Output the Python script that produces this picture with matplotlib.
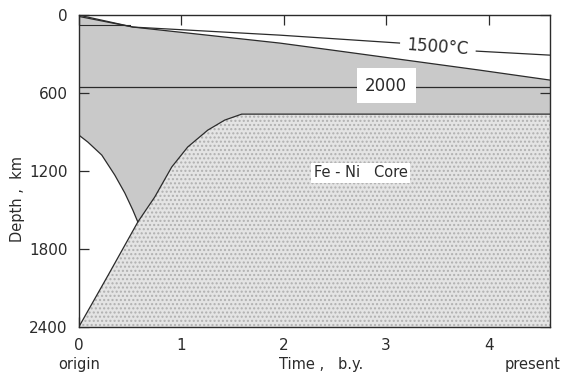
"""Depth-time section: isotherms, molten zone and growth of the Fe-Ni core."""

import matplotlib.pyplot as plt

# values (time in b.y., depth in km)
core_t = [0.0, 0.29, 0.576, 0.741, 0.907, 1.063, 1.259, 1.424, 1.59, 4.6]
core_d = [2400, 1996, 1592, 1400, 1169, 1015, 885, 808, 762, 762]

melt_low_t = [0.0, 0.088, 0.224, 0.351, 0.449, 0.527, 0.576]
melt_low_d = [923, 977, 1077, 1231, 1369, 1500, 1592]

melt_top_t = [0.0, 0.53, 1.96, 2.48, 3.91, 4.6]
melt_top_d = [10, 92, 215, 270, 423, 500]

iso1500_t = [0.0, 0.53, 1.96, 3.13, 3.88, 4.6]
iso1500_d = [0, 92, 154, 215, 277, 308]

iso2000_d = 554
x_ticks = [0, 1, 2, 3, 4]
y_ticks = [0, 600, 1200, 1800, 2400]

INK = "#2b2b2b"


def main() -> None:
    fig = plt.figure(figsize=(5.63, 3.78), dpi=100)
    ax = fig.add_axes([0.140, 0.135, 0.837, 0.825])

    # molten (grey) zone: top edge, right edge, core boundary back to the V, lower-left edge
    v = core_t.index(0.576)
    poly_t = melt_top_t + core_t[::-1][: len(core_t) - v] + melt_low_t[::-1]
    poly_d = melt_top_d + core_d[::-1][: len(core_d) - v] + melt_low_d[::-1]
    ax.fill(poly_t, poly_d, facecolor="#c9c9c9", edgecolor="none", zorder=1)

    # core (stippled)
    ax.fill_between(core_t, core_d, 2400, facecolor="#e4e4e4", edgecolor="#b0b0b0",
                    hatch="....", linewidth=0, zorder=2)
    ax.plot(core_t, core_d, color=INK, lw=0.9, zorder=3)
    ax.plot(melt_low_t, melt_low_d, color=INK, lw=0.9, zorder=3)
    ax.plot(melt_top_t, melt_top_d, color=INK, lw=0.9, zorder=3)
    ax.plot([0, 0.5], [77, 77], color=INK, lw=0.8, zorder=3)

    # isotherms
    ax.plot(iso1500_t[:4], iso1500_d[:4], color=INK, lw=0.9, zorder=3)
    ax.plot(iso1500_t[4:], iso1500_d[4:], color=INK, lw=0.9, zorder=3)
    ax.text(3.5, 250, "1500°C", ha="center", va="center", rotation=-4,
            fontsize=12, color=INK, zorder=4)
    ax.axhline(iso2000_d, color=INK, lw=0.9, zorder=3)
    ax.text(3.0, iso2000_d - 10, "2000", ha="center", va="center", fontsize=12, color=INK,
            bbox=dict(facecolor="white", edgecolor="none", pad=6), zorder=4)

    ax.text(2.75, 1215, "Fe - Ni   Core", ha="center", va="center", fontsize=10.5, color=INK,
            bbox=dict(facecolor="white", edgecolor="none", pad=2), zorder=4)

    ax.set_xlim(0, 4.6)
    ax.set_ylim(2400, 0)
    ax.set_xticks(x_ticks)
    ax.set_yticks(y_ticks)
    ax.tick_params(direction="in", top=True, right=True, length=7, width=0.9,
                   labelsize=11, colors=INK, pad=8)
    for s in ax.spines.values():
        s.set_color(INK)
        s.set_linewidth(1.0)

    ax.set_ylabel("Depth ,  km", fontsize=10.5, color=INK)
    ax.yaxis.set_label_coords(-0.115, 0.41)
    fig.text(0.140, 0.025, "origin", ha="center", fontsize=10.5, color=INK)
    fig.text(0.57, 0.025, "Time ,   b.y.", ha="center", fontsize=10.5, color=INK)
    fig.text(0.995, 0.025, "present", ha="right", fontsize=10.5, color=INK)

    fig.savefig("out.png", dpi=100)


if __name__ == "__main__":
    main()
